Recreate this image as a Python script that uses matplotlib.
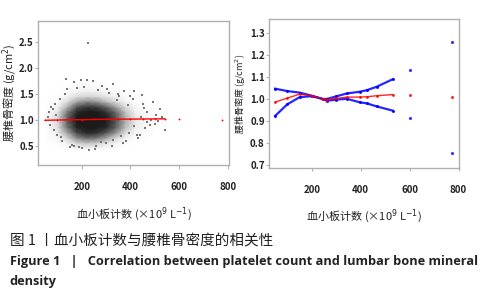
import numpy as np
import matplotlib
matplotlib.use('Agg')
import matplotlib.pyplot as plt

plt.rcParams['font.family'] = ['Noto Sans CJK SC', 'DejaVu Sans']

# left panel: density of the dense scatter core (darkness 0..1)
dens_x = [60, 100, 140, 180, 220, 260, 300, 340, 380, 420, 460, 500, 540]
dens_y = [0.45, 0.55, 0.65, 0.75, 0.85, 0.95, 1.05, 1.15, 1.25, 1.35, 1.45, 1.55, 1.65, 1.75]
dens = [
    [0, 0, 0.03, 0.1, 0.12, 0.1, 0.05, 0.02, 0, 0, 0, 0, 0],
    [0, 0.03, 0.1, 0.3, 0.38, 0.33, 0.2, 0.1, 0.03, 0, 0, 0, 0],
    [0.02, 0.08, 0.3, 0.6, 0.72, 0.68, 0.5, 0.28, 0.1, 0.03, 0.01, 0, 0],
    [0.04, 0.15, 0.5, 0.85, 0.95, 0.92, 0.8, 0.55, 0.25, 0.08, 0.03, 0.01, 0],
    [0.06, 0.22, 0.68, 0.97, 1, 1, 0.95, 0.75, 0.4, 0.15, 0.05, 0.02, 0],
    [0.08, 0.26, 0.75, 1, 1, 1, 0.98, 0.8, 0.45, 0.18, 0.06, 0.02, 0],
    [0.08, 0.26, 0.75, 1, 1, 1, 0.98, 0.8, 0.45, 0.18, 0.06, 0.02, 0],
    [0.06, 0.2, 0.65, 0.95, 1, 1, 0.92, 0.72, 0.38, 0.14, 0.05, 0.02, 0],
    [0.03, 0.12, 0.45, 0.8, 0.9, 0.88, 0.75, 0.5, 0.25, 0.08, 0.03, 0.01, 0],
    [0.01, 0.05, 0.25, 0.5, 0.6, 0.55, 0.42, 0.25, 0.1, 0.03, 0.01, 0, 0],
    [0, 0.02, 0.1, 0.25, 0.3, 0.28, 0.2, 0.1, 0.04, 0.01, 0, 0, 0],
    [0, 0, 0.04, 0.1, 0.12, 0.11, 0.07, 0.03, 0.01, 0, 0, 0, 0],
    [0, 0, 0.01, 0.04, 0.05, 0.04, 0.02, 0.01, 0, 0, 0, 0, 0],
    [0, 0, 0, 0.01, 0.02, 0.02, 0.01, 0, 0, 0, 0, 0, 0],
]

# sparse points around the cloud
pts_x = [225, 135, 195, 220, 245, 168, 330, 285, 182, 305, 372, 415, 448, 492, 520,
         410, 355, 450, 470, 505, 530, 395, 425, 460, 480, 540, 380, 430, 470, 500,
         75, 60, 90, 110, 70, 85, 100, 120, 170, 200, 260, 300, 150, 230, 280, 330,
         360, 440, 415, 390, 345, 515, 95, 65, 130, 310, 265, 210, 140, 400, 455,
         350, 370, 325, 255, 190, 160, 115, 80, 485, 445]
pts_y = [2.47, 1.78, 1.77, 1.76, 1.75, 1.72, 1.69, 1.65, 1.62, 1.6, 1.55, 1.56, 1.48, 1.35, 1.2,
         1.4, 1.45, 1.3, 1.15, 1.1, 1.05, 0.75, 0.7, 0.85, 0.9, 0.8, 0.6, 0.65, 0.95, 0.92,
         1.25, 1.05, 1.3, 1.4, 0.9, 0.8, 0.7, 0.6, 0.5, 0.45, 0.5, 0.55, 0.48, 0.42, 0.58, 0.62,
         0.68, 0.7, 0.88, 1.28, 1.38, 0.98, 1.1, 1.15, 1.5, 1.52, 1.58, 1.64, 1.6, 1.45, 1.22,
         1.5, 0.56, 0.5, 0.44, 0.47, 0.52, 0.66, 1.2, 1.0, 1.05]

# fitted line (left)
fit_x = [50, 100, 150, 200, 250, 300, 350, 400, 450, 500, 540, 600, 775]
fit_y = [0.99, 0.995, 1.0, 1.003, 1.006, 1.009, 1.011, 1.013, 1.015, 1.017, 1.019, 1.02, 1.0]

# right panel: smooth fit with confidence band
sm_x = [50, 100, 150, 200, 245, 262, 300, 343, 396, 425, 466, 531]
sm_mid = [0.986, 1.004, 1.022, 1.015, 1.0, 0.997, 1.003, 1.008, 1.009, 1.010, 1.015, 1.02]
sm_up = [1.047, 1.036, 1.029, 1.015, 1.0, 1.0, 1.012, 1.025, 1.033, 1.04, 1.056, 1.09]
sm_lo = [0.923, 0.976, 1.008, 1.013, 1.0, 0.992, 0.997, 1.001, 0.985, 0.98, 0.966, 0.947]
tail_x = [600, 775]
tail_mid = [1.02, 1.009]
tail_up = [1.132, 1.259]
tail_lo = [0.912, 0.756]

spine_c = '#b0b0b0'
tick_font = dict(fontsize=7, fontweight='bold', color='#222222')

fig = plt.figure(figsize=(4.84, 3.0), dpi=100)

# ---- left panel
ax1 = fig.add_axes([0.0785, 0.45, 0.3946, 0.48])
ax1.pcolormesh(dens_x, dens_y, np.array(dens), cmap='Greys', vmin=0, vmax=1.1,
               shading='gouraud', zorder=1)
ax1.scatter(pts_x, pts_y, s=1.0, c='#777777', marker='s', linewidths=0, zorder=2)
ax1.plot(fit_x[:-2], fit_y[:-2], color='red', lw=1.0, marker='+', ms=2, mew=0.6, zorder=3)
ax1.plot(fit_x[-2:], fit_y[-2:], ls='none', color='red', marker='+', ms=2, mew=0.6, zorder=3)
ax1.set_xlim(20, 805)
ax1.set_ylim(0.13, 2.9)
ax1.set_xticks([200, 400, 600, 800])
ax1.set_yticks([0.5, 1.0, 1.5, 2.0, 2.5])
ax1.set_xticklabels(['200', '400', '600', '800'], **tick_font)
ax1.set_yticklabels(['0.5', '1.0', '1.5', '2.0', '2.5'], **tick_font)
ax1.tick_params(axis='x', length=3, pad=9, color=spine_c)
ax1.tick_params(axis='y', length=2, pad=1, color=spine_c)
ax1.set_xlabel('血小板计数 (×10$^9$ L$^{-1}$)', fontsize=8, color='#222222')
ax1.set_ylabel('腰椎骨密度 (g/cm$^2$)', fontsize=8, color='#222222')
ax1.xaxis.set_label_coords(0.5, -40 / 144)
ax1.yaxis.set_label_coords(-19 / 191, 0.5)

# ---- right panel
ax2 = fig.add_axes([0.5558, 0.44, 0.3926, 0.4967])
ax2.plot(sm_x, sm_up, color='blue', lw=1.6, alpha=0.85, marker='o', ms=1.2, zorder=2)
ax2.plot(sm_x, sm_lo, color='blue', lw=1.6, alpha=0.85, marker='o', ms=1.2, zorder=2)
ax2.plot(sm_x, sm_mid, color='red', lw=1.0, alpha=0.85, marker='o', ms=1.0, zorder=3)
ax2.plot(tail_x, tail_up, ls='none', color='blue', marker='o', ms=1.3, alpha=0.7)
ax2.plot(tail_x, tail_lo, ls='none', color='blue', marker='o', ms=1.3, alpha=0.7)
ax2.plot(tail_x, tail_mid, ls='none', color='red', marker='o', ms=1.3, alpha=0.7)
ax2.set_xlim(25, 802)
ax2.set_ylim(0.686, 1.364)
ax2.set_xticks([200, 400, 600, 800])
ax2.set_yticks([0.7, 0.8, 0.9, 1.0, 1.1, 1.2, 1.3])
ax2.set_xticklabels(['200', '400', '600', '800'], **tick_font)
ax2.set_yticklabels(['0.7', '0.8', '0.9', '1.0', '1.1', '1.2', '1.3'], **tick_font)
ax2.tick_params(axis='x', length=2, pad=10, color=spine_c)
ax2.tick_params(axis='y', length=2, pad=1, color=spine_c)
ax2.set_xlabel('血小板计数 (×10$^9$ L$^{-1}$)', fontsize=8, color='#222222')
ax2.set_ylabel('腰椎骨密度 (g/cm$^2$)', fontsize=6.5, color='#222222')
ax2.xaxis.set_label_coords(0.5, -39 / 149)
ax2.yaxis.set_label_coords(-21 / 190, 0.5)

for ax in (ax1, ax2):
    for sp in ax.spines.values():
        sp.set_color(spine_c)
        sp.set_linewidth(1.0)

# caption
fig.text(0.02, 1 - 241 / 300, '图 1 丨血小板计数与腰椎骨密度的相关性', fontsize=10.5,
         va='center', ha='left', color='#222222')
fig.text(0.02, 1 - 262 / 300, 'Figure 1   |   Correlation between platelet count and lumbar bone mineral',
         fontsize=9.2, fontweight='bold', family=['Open Sans', 'DejaVu Sans'],
         va='center', ha='left', color='#222222')
fig.text(0.02, 1 - 282 / 300, 'density', fontsize=9.2, fontweight='bold',
         family=['Open Sans', 'DejaVu Sans'], va='center', ha='left', color='#222222')

fig.savefig('out.png', dpi=100)
